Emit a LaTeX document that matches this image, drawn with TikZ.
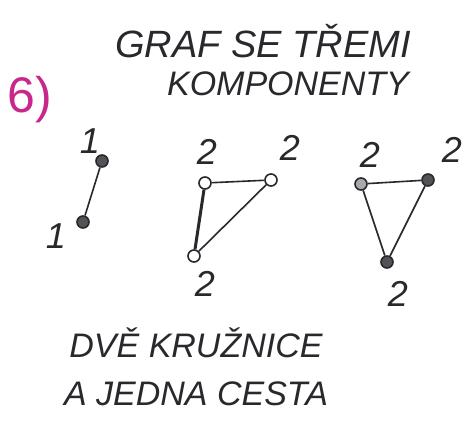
\documentclass[tikz,border=0pt]{standalone}
\usepackage{fontspec}
\setmainfont{Liberation Sans}
\definecolor{ink}{RGB}{40,40,45}
\definecolor{pink}{RGB}{200,40,140}
\begin{document}
\begin{tikzpicture}[x=1pt,y=-1pt,
  vert/.style={circle,draw=ink,fill=ink!80,line width=1.6pt,inner sep=0pt,minimum size=12pt},
  edge/.style={draw=ink,line width=1.6pt},
  lab/.style={text=ink,font=\fontsize{36}{36}\selectfont\itshape},
  title/.style={text=ink,font=\fontsize{34}{36}\selectfont\itshape}]
\useasboundingbox[fill=white] (0,0) rectangle (469,427);
% heading
\node[text=pink,font=\fontsize{50}{50}\selectfont] (num) at (30,100) {6)};
\node[title,font=\fontsize{38}{40}\selectfont\itshape] (t1) at (263,41) {GRAF SE TŘEMI};
\node[title] (t2) at (288,84) {KOMPONENTY};
% path
\node[vert] (p1) at (102,161) {};
\node[vert] (p2) at (83,222) {};
\draw[edge] (p1) -- (p2);
\node[lab] (l1) at (90,141) {1};
\node[lab] (l2) at (56,236) {1};
% triangle 1
\node[vert,fill=white] (a1) at (205,183) {};
\node[vert,fill=white] (a2) at (271,180) {};
\node[vert,fill=white] (a3) at (194,256) {};
\draw[edge] (a1) -- (a2) -- (a3);
\draw[edge,line width=3pt] (a1) -- (a3);
\node[lab] (la1) at (207,152) {2};
\node[lab] (la2) at (290,148) {2};
\node[lab] (la3) at (205,284) {2};
% triangle 2
\node[vert,fill=ink!40] (b1) at (361,184) {};
\node[vert] (b2) at (428,180) {};
\node[vert] (b3) at (387,262) {};
\draw[edge] (b1) -- (b2) -- (b3) -- (b1);
\node[lab] (lb1) at (370,155) {2};
\node[lab] (lb2) at (452,150) {2};
\node[lab] (lb3) at (398,294) {2};
% bottom text
\node[title] (s1) at (196,343) {DVĚ KRUŽNICE};
\node[title] (s2) at (196,394) {A JEDNA CESTA};
\end{tikzpicture}
\end{document}
